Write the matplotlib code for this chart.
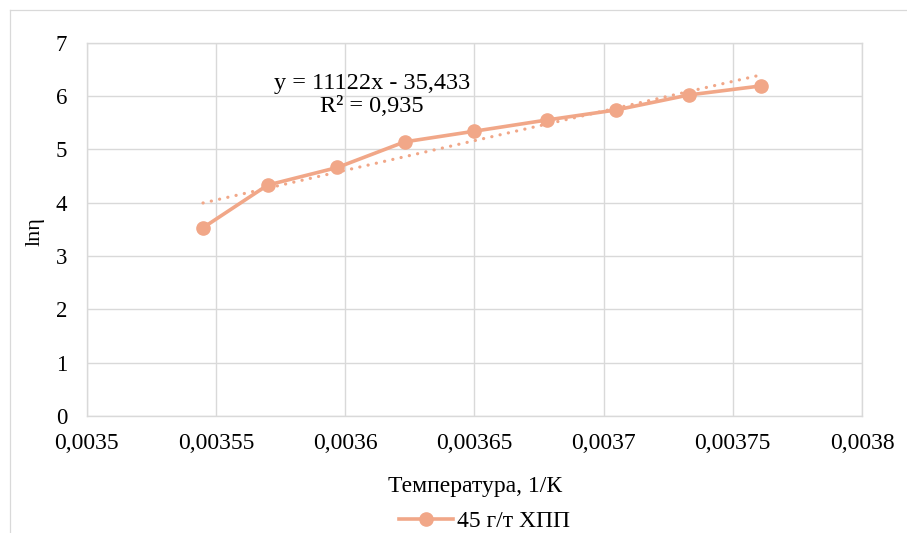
import numpy as np
import matplotlib
matplotlib.use("Agg")
import matplotlib.pyplot as plt
from matplotlib.lines import Line2D

plt.rcParams['font.family'] = ['Liberation Serif', 'DejaVu Serif']

# Данные: обратная температура и логарифм вязкости
inv_T = [0.003545, 0.003570, 0.003597, 0.003623, 0.003650, 0.003678, 0.003705, 0.003733, 0.003761]
ln_eta = [3.53, 4.33, 4.66, 5.14, 5.34, 5.55, 5.74, 6.02, 6.19]
series_name = "45 г/т ХПП"

# Линейный тренд (как в подписи)
slope = 11122
intercept = -35.433
r2 = 0.935

x_ticks = [0.0035, 0.00355, 0.0036, 0.00365, 0.0037, 0.00375, 0.0038]
x_tick_labels = ["0,0035", "0,00355", "0,0036", "0,00365", "0,0037", "0,00375", "0,0038"]
y_ticks = [0, 1, 2, 3, 4, 5, 6, 7]

color = '#F1A788'
grid_color = '#D9D9D9'

fig = plt.figure(figsize=(9.07, 5.33), dpi=100)
ax = fig.add_axes([0.0956, 0.2195, 0.8548, 0.7004])

# рамка области диаграммы
fig.add_artist(Line2D([0.011, 0.011], [0, 0.981], color=grid_color, lw=0.9))
fig.add_artist(Line2D([0.011, 1], [0.981, 0.981], color=grid_color, lw=0.9))

x = np.array(inv_T)
y = np.array(ln_eta)
ax.plot(x, y, color=color, lw=2.6, marker='o', markersize=9.5, label=series_name, zorder=3)

xt = np.array([x.min(), x.max()])
ax.plot(xt, slope * xt + intercept, color=color, lw=2.3,
        linestyle=(0, (0.05, 2.6)), dash_capstyle='round', zorder=2)

ax.text(0.368, 0.86, f"y = {slope}x - {abs(intercept):.3f}".replace('.', ',') + "\n"
        + f"R² = {r2:.3f}".replace('.', ','),
        transform=ax.transAxes, ha='center', va='center', fontsize=17.5, linespacing=1.1)

ax.set_xlim(0.0035, 0.0038)
ax.set_ylim(0, 7)
ax.set_xticks(x_ticks, x_tick_labels)
ax.set_yticks(y_ticks, [str(v) for v in y_ticks])
ax.tick_params(axis='x', length=0, pad=12, labelsize=17)
ax.tick_params(axis='y', length=0, pad=14, labelsize=16.5)
ax.grid(True, color=grid_color, lw=1.0)
ax.set_axisbelow(True)
for side in ['top', 'right', 'left', 'bottom']:
    ax.spines[side].set_color(grid_color)
    ax.spines[side].set_linewidth(1.0)

fig.text(0.524, 0.077, "Температура, 1/К", ha='center', va='baseline', fontsize=17)
fig.text(0.0386, 0.565, "lnη", ha='center', va='center', rotation=90, fontsize=16)

fig.legend(loc='center', bbox_to_anchor=(0.534, 0.0225), frameon=False, fontsize=17,
           handlelength=2.3, handletextpad=0.15)

fig.savefig("out.png", dpi=100)
